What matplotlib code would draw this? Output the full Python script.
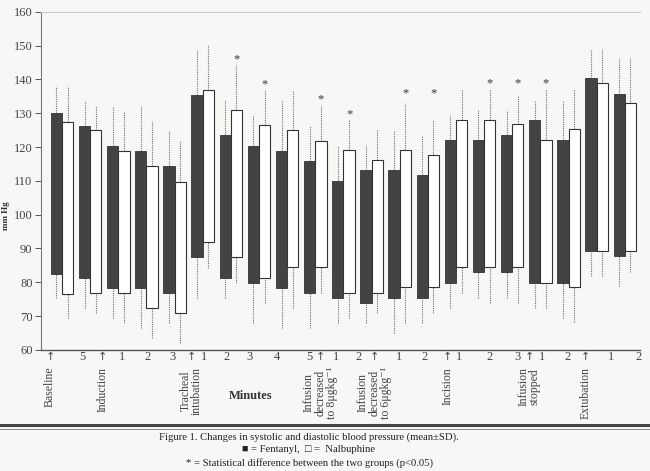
import numpy as np
import matplotlib.pyplot as plt

plt.rcParams['font.family'] = ['Liberation Serif', 'DejaVu Sans']

# systolic / diastolic means and SD, fentanyl group (dark bars)
fen_sys = [130.2, 126.3, 120.4, 118.9, 114.5, 135.3, 123.5, 120.4, 118.9, 115.9, 110.0,
           113.2, 113.2, 111.7, 122.0, 122.0, 123.7, 128.1, 122.0, 140.3, 135.8]
fen_sys_sd = [7.8, 7.3, 11.7, 13.1, 10.2, 13.5, 10.4, 9.0, 15.0, 10.3, 10.3,
              7.4, 11.9, 11.8, 7.4, 8.9, 7.2, 5.9, 12.0, 8.8, 10.4]
fen_dia = [82.4, 81.4, 78.4, 78.4, 76.7, 87.4, 81.4, 79.9, 78.4, 76.9, 75.3,
           73.8, 75.3, 75.3, 79.9, 83.0, 83.0, 79.9, 79.9, 89.3, 87.8]
fen_dia_sd = [6.9, 9.1, 9.0, 12.0, 8.8, 12.1, 6.1, 12.0, 12.0, 10.5, 7.4,
              5.9, 10.4, 7.4, 7.6, 7.7, 7.7, 7.6, 10.5, 7.4, 8.9]

# nalbuphine group (white bars)
nal_sys = [127.3, 125.0, 118.9, 114.5, 109.7, 137.0, 130.9, 126.5, 125.0, 121.8, 119.1,
           116.1, 119.1, 117.6, 128.1, 128.1, 126.7, 122.0, 125.2, 138.8, 132.9]
nal_sys_sd = [10.7, 7.0, 11.7, 13.2, 12.0, 13.1, 13.5, 10.5, 12.0, 10.6, 8.9,
              9.0, 13.8, 10.4, 8.9, 8.9, 8.8, 15.0, 11.8, 10.3, 13.3]
nal_dia = [76.4, 76.7, 76.7, 72.3, 70.8, 91.8, 87.4, 81.4, 84.4, 84.4, 76.9,
           76.9, 78.5, 78.5, 84.6, 84.6, 84.6, 79.9, 78.7, 89.3, 89.3]
nal_dia_sd = [7.0, 5.9, 8.8, 8.9, 8.8, 7.5, 7.7, 7.6, 12.1, 7.7, 7.5,
              6.1, 10.6, 7.7, 7.9, 10.8, 10.8, 7.6, 10.3, 7.4, 6.2]

# significant differences (pair index, height of the star)
star_idx = [6, 7, 9, 10, 12, 13, 15, 16, 17]
star_y = [146.0, 138.6, 134.1, 129.7, 135.8, 135.8, 138.8, 138.8, 138.8]

# minute labels under the axis and their positions
minute_labels = ['5', '1', '2', '3', '1', '2', '3', '4', '5', '1', '2',
                 '1', '2', '1', '2', '3', '1', '2', '1', '2']
minute_pos = [0.71, 2.13, 3.05, 3.94, 5.04, 5.85, 6.67, 7.62, 8.79, 9.75, 10.53,
              11.99, 12.9, 14.1, 15.2, 16.2, 17.06, 17.98, 19.5, 20.5]

events = ['Baseline', 'Induction', 'Tracheal\nintubation',
          'Infusion\ndecreased\nto 8\u03bcgkg\u207b\u00b9', 'Infusion\ndecreased\nto 6\u03bcgkg\u207b\u00b9',
          'Incision', 'Infusion\nstopped', 'Extubation']
event_pos = [-0.43, 1.45, 4.6, 9.18, 11.1, 13.7, 16.6, 18.6]

bg = '#f7f7f5'
dark = '#434343'

fig = plt.figure(figsize=(6.5, 4.71), dpi=100, facecolor=bg)
ax = fig.add_axes([0.063, 0.257, 0.922, 0.718], facecolor=bg)

x = np.arange(len(fen_sys))
w = 0.4
fs = np.array(fen_sys); fd = np.array(fen_dia)
ns = np.array(nal_sys); nd = np.array(nal_dia)

# whiskers (dotted)
wk = dict(colors='#707070', linestyles=(0, (1, 1)), linewidth=0.8, zorder=1)
ax.vlines(x - w / 2, fs, fs + np.array(fen_sys_sd), **wk)
ax.vlines(x - w / 2, fd - np.array(fen_dia_sd), fd, **wk)
ax.vlines(x + w / 2, ns, ns + np.array(nal_sys_sd), **wk)
ax.vlines(x + w / 2, nd - np.array(nal_dia_sd), nd, **wk)

ax.bar(x - w / 2, fs - fd, bottom=fd, width=w, color=dark, edgecolor='#333333',
       linewidth=0.6, zorder=2)
ax.bar(x + w / 2, ns - nd, bottom=nd, width=w, color='white', edgecolor='#333333',
       linewidth=0.8, zorder=2)

for i, sy in zip(star_idx, star_y):
    ax.text(x[i] + w / 2, sy, '*', ha='center', va='center', fontsize=9, color='#333333')

ax.set_xlim(-0.75, 20.55)
ax.set_ylim(60, 160)
ax.set_yticks(np.arange(60, 161, 10))
ax.set_xticks([])
ax.tick_params(axis='y', direction='out', length=4, width=0.7, colors='#555555',
               labelsize=9, labelcolor='#444444', pad=2)
ax.spines['right'].set_visible(False)
ax.spines['top'].set_color('#c8c8c8')
ax.spines['top'].set_linewidth(0.8)
ax.spines['left'].set_color('#777777')
ax.spines['left'].set_linestyle((0, (1, 1)))
ax.spines['left'].set_linewidth(0.8)
ax.spines['bottom'].set_color('#555555')
ax.spines['bottom'].set_linewidth(1.0)

fig.text(6 / 650, 1 - 216 / 471, 'mm Hg', rotation=90, ha='center', va='center',
         fontsize=6.5, fontweight='bold', color='#333333')

tr = ax.get_xaxis_transform()
for lab, p in zip(minute_labels, minute_pos):
    ax.text(p, -0.022, lab, transform=tr, ha='center', va='center', fontsize=9,
            color='#444444')
for ev, p in zip(events, event_pos):
    ax.text(p, -0.021, '\u2191', transform=tr, ha='center', va='center', fontsize=8,
            color='#444444', family=['DejaVu Sans'])
    ax.text(p, -0.05, ev, transform=tr, ha='center', va='top', rotation=90,
            fontsize=8.5, color='#444444', linespacing=0.95)

fig.text(251 / 650, 1 - 396 / 471, 'Minutes', ha='center', va='center', fontsize=9,
         fontweight='bold', color='#333333')

fig.add_artist(plt.Line2D([0, 1], [1 - 425 / 471, 1 - 425 / 471], color='#444444',
                          linewidth=2.2))
fig.add_artist(plt.Line2D([0, 1], [1 - 428.5 / 471, 1 - 428.5 / 471], color='#888888',
                          linewidth=0.7))

cx = 309 / 650
fig.text(cx, 1 - 437 / 471,
         'Figure 1. Changes in systolic and diastolic blood pressure (mean\u00b1SD).',
         ha='center', va='center', fontsize=7.7, color='#222222')
fig.text(cx, 1 - 450 / 471, '\u25a0 = Fentanyl,  \u25a1 =  Nalbuphine',
         ha='center', va='center', fontsize=7.7, color='#222222')
fig.text(cx, 1 - 463 / 471,
         '* = Statistical difference between the two groups (p<0.05)',
         ha='center', va='center', fontsize=7.7, color='#222222')

fig.savefig('out.png', dpi=100, facecolor=bg)
